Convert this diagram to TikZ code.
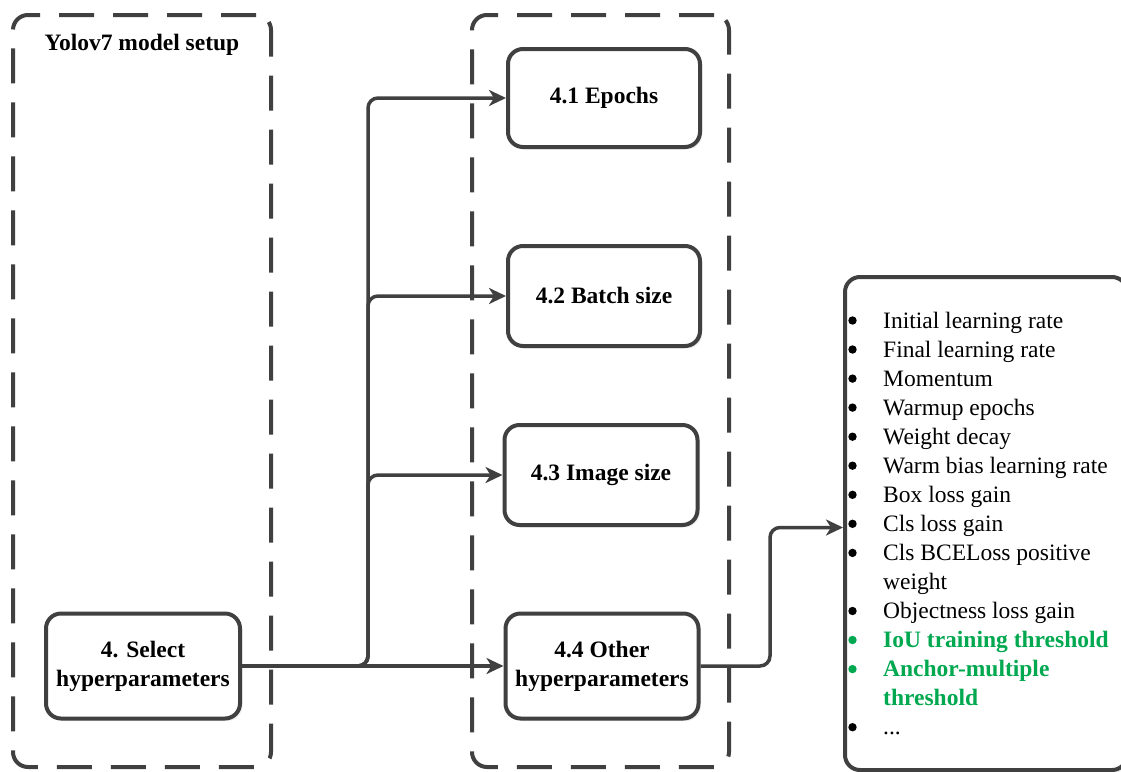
\documentclass[tikz,border=0pt]{standalone}
\usepackage{fontspec}
\setmainfont{LiberationSerif}[
  Extension=.ttf,
  UprightFont=*-Regular,
  BoldFont=*-Bold,
  ItalicFont=*-Italic,
  BoldItalicFont=*-BoldItalic]
\usetikzlibrary{arrows.meta,shadows,calc}
\definecolor{linegray}{RGB}{64,64,64}
\definecolor{hlgreen}{RGB}{0,168,80}

\tikzset{
  group/.style={draw=linegray, line width=4pt, rounded corners=15pt,
    dash pattern=on 35pt off 19pt, inner sep=0pt},
  stepbox/.style={draw=linegray, line width=4pt, rounded corners=15pt, fill=white,
    align=center, inner sep=0pt,
    font=\fontsize{23.5}{29}\selectfont\bfseries,
    drop shadow={shadow xshift=2.5pt, shadow yshift=-2.5pt, opacity=0.12}},
  listbox/.style={draw=linegray, line width=4pt, rounded corners=15pt, fill=white,
    inner sep=0pt,
    drop shadow={shadow xshift=2.5pt, shadow yshift=-2.5pt, opacity=0.12}},
  conn/.style={draw=linegray, line width=3.5pt, rounded corners=10pt},
  arr/.style={conn, -{Stealth[length=17pt,width=16pt,inset=5pt]}},
  item/.style={anchor=base west, inner sep=0pt, font=\fontsize{23.5}{29}\selectfont},
  hlitem/.style={item, text=hlgreen, font=\fontsize{23.5}{29}\selectfont\bfseries},
  titletext/.style={anchor=base, inner sep=0pt, font=\fontsize{23.5}{29}\selectfont\bfseries},
  dot/.style={radius=4.2pt},
}

\begin{document}
\begin{tikzpicture}[x=1pt, y=-1pt]
  \path[use as bounding box, clip] (0,0) rectangle (1121,771);
  \fill[white] (0,0) rectangle (1121,771);

  % dashed grouping frames
  \node[group, minimum width=258pt, minimum height=752pt] (setup) at (142,391) {};
  \node[group, minimum width=257pt, minimum height=752pt] (hyper) at (600.5,391) {};
  \node[titletext] (title) at (142,50) {Yolov7 model setup};

  % process boxes
  \node[stepbox, minimum width=194pt, minimum height=105pt] (sel) at (143,666)
    {4. Select\\hyperparameters};
  \node[stepbox, minimum width=192pt, minimum height=98pt] (e1) at (604,98) {4.1 Epochs};
  \node[stepbox, minimum width=192pt, minimum height=100pt] (e2) at (604,296) {4.2 Batch size};
  \node[stepbox, minimum width=193pt, minimum height=100pt] (e3) at (601,475) {4.3 Image size};
  \node[stepbox, minimum width=193pt, minimum height=105pt] (e4) at (602,666)
    {4.4 Other\\hyperparameters};

  % list of further hyperparameters
  \node[listbox, minimum width=282pt, minimum height=493pt, anchor=north west]
    (params) at (843,275) {};
  \node[item]   (p0)  at (883,328.0) {Initial learning rate};
  \node[item]   (p1)  at (883,357.0) {Final learning rate};
  \node[item]   (p2)  at (883,386.1) {Momentum};
  \node[item]   (p3)  at (883,415.1) {Warmup epochs};
  \node[item]   (p4)  at (883,444.2) {Weight decay};
  \node[item]   (p5)  at (883,473.2) {Warm bias learning rate};
  \node[item]   (p6)  at (883,502.3) {Box loss gain};
  \node[item]   (p7)  at (883,531.3) {Cls loss gain};
  \node[item]   (p8)  at (883,560.4) {Cls BCELoss positive};
  \node[item]   (p9)  at (883,589.4) {weight};
  \node[item]   (p10) at (883,618.5) {Objectness loss gain};
  \node[hlitem] (p11) at (883,647.5) {IoU training threshold};
  \node[hlitem] (p12) at (883,676.6) {Anchor-multiple};
  \node[hlitem] (p13) at (883,705.6) {threshold};
  \node[item]   (p14) at (883,734.7) {...};

  % bullets in front of the list entries
  \foreach \b in {p0,p1,p2,p3,p4,p5,p6,p7,p8,p10,p14}
    \fill[black] ([yshift=7.5pt]\b.base west -| params.west) ++(9.5,0) circle[dot];
  \foreach \b in {p11,p12}
    \fill[hlgreen] ([yshift=7.5pt]\b.base west -| params.west) ++(9.5,0) circle[dot];

  % connectors
  \coordinate (trunk) at (368,666);
  \draw[arr] (sel.east) -- (trunk) |- (e1.west);
  \draw[arr] (sel.east) -- (trunk) |- (e2.west);
  \draw[arr] (sel.east) -- (trunk) |- (e3.west);
  \draw[arr] (sel.east) -- (e4.west);

  \coordinate (pin) at ([yshift=-4pt]params.west);
  \coordinate (bend) at ([xshift=-73pt]pin);
  \draw[arr] (e4.east) -| (bend) -- (pin);
\end{tikzpicture}
\end{document}
